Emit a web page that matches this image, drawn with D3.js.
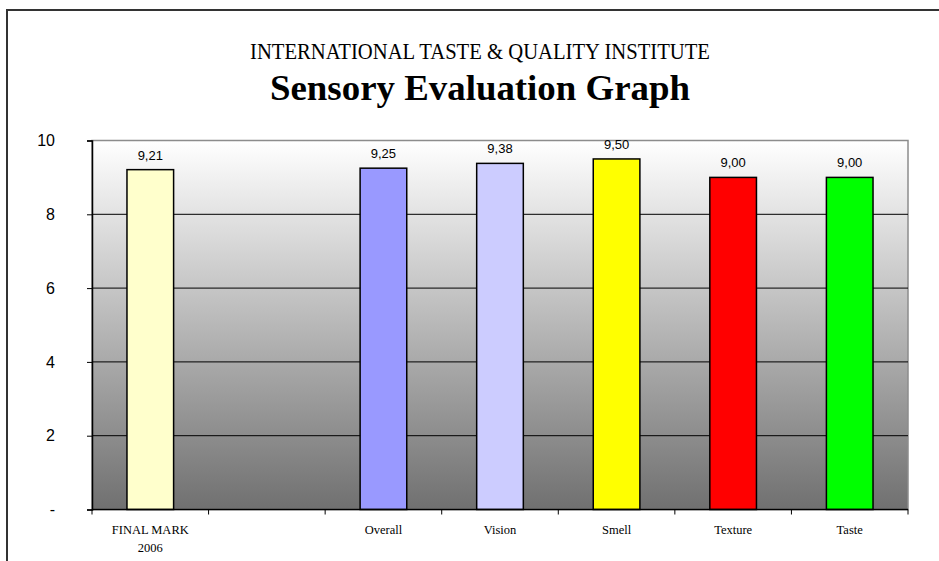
<!DOCTYPE html>
<html>
<head>
<meta charset="utf-8">
<script src="https://cdn.jsdelivr.net/npm/d3@7.9.0/dist/d3.min.js"></script>
<style>
  html, body { margin: 0; padding: 0; background: #fff; }
  svg { display: block; }
</style>
</head>
<body>
<svg id="chart" width="939" height="561"></svg>
<script>
// data
const categories = ['FINAL MARK|2006', ' ', 'Overall', 'Vision', 'Smell', 'Texture', 'Taste'];
const scores = [9.21, null, 9.25, 9.38, 9.50, 9.00, 9.00];
const barColors = ['#ffffcc', 'none', '#9999ff', '#ccccff', '#ffff00', '#ff0000', '#00ff00'];
const yTicks = [0, 2, 4, 6, 8, 10];

const svg = d3.select('#chart');

const plot = { left: 92, right: 908, top: 140.5, bottom: 509.5 };

const x = d3.scaleBand()
  .domain(categories)
  .range([plot.left, plot.right])
  .paddingInner(0.6)
  .paddingOuter(0.3);

const y = d3.scaleLinear().domain([0, 10]).range([plot.bottom, plot.top]);

// outer frame (runs off the page on the right and bottom)
svg.append('rect')
  .attr('x', 7).attr('y', 10)
  .attr('width', 1000).attr('height', 600)
  .attr('fill', 'none')
  .attr('stroke', '#333')
  .attr('stroke-width', 2);

// titles
svg.append('text')
  .attr('x', 480).attr('y', 59)
  .attr('text-anchor', 'middle')
  .attr('font-family', 'Liberation Serif, Times New Roman, serif')
  .attr('font-size', 22.5)
  .attr('textLength', 460)
  .attr('lengthAdjust', 'spacingAndGlyphs')
  .text('INTERNATIONAL TASTE & QUALITY INSTITUTE');

svg.append('text')
  .attr('x', 480).attr('y', 100)
  .attr('text-anchor', 'middle')
  .attr('font-family', 'Liberation Serif, Times New Roman, serif')
  .attr('font-weight', 'bold')
  .attr('font-size', 36)
  .attr('textLength', 420)
  .attr('lengthAdjust', 'spacingAndGlyphs')
  .text('Sensory Evaluation Graph');

// plot background gradient
const grad = svg.append('defs').append('linearGradient')
  .attr('id', 'bg').attr('x1', 0).attr('y1', 0).attr('x2', 0).attr('y2', 1);
grad.append('stop').attr('offset', '0%').attr('stop-color', '#ffffff');
grad.append('stop').attr('offset', '100%').attr('stop-color', '#707070');

svg.append('rect')
  .attr('x', plot.left).attr('y', plot.top)
  .attr('width', plot.right - plot.left)
  .attr('height', plot.bottom - plot.top)
  .attr('fill', 'url(#bg)')
  .attr('stroke', '#8c8c8c')
  .attr('stroke-width', 1.5);

// gridlines
svg.append('g')
  .selectAll('line')
  .data(yTicks.filter(t => t > 0 && t < 10))
  .join('line')
  .attr('x1', plot.left).attr('x2', plot.right)
  .attr('y1', d => y(d)).attr('y2', d => y(d))
  .attr('stroke', '#000')
  .attr('stroke-width', 1);

// bars
const data = categories.map((c, i) => ({ cat: c, value: scores[i], color: barColors[i] }))
  .filter(d => d.value != null);

svg.append('g')
  .selectAll('rect')
  .data(data)
  .join('rect')
  .attr('x', d => x(d.cat))
  .attr('y', d => y(d.value))
  .attr('width', x.bandwidth())
  .attr('height', d => y(0) - y(d.value))
  .attr('fill', d => d.color)
  .attr('stroke', '#000')
  .attr('stroke-width', 1.5);

// value labels
svg.append('g')
  .selectAll('text')
  .data(data)
  .join('text')
  .attr('x', d => x(d.cat) + x.bandwidth() / 2)
  .attr('y', d => y(d.value) - 10)
  .attr('text-anchor', 'middle')
  .attr('font-family', 'Liberation Sans, Arial, sans-serif')
  .attr('font-size', 13)
  .attr('fill', '#000')
  .text(d => d.value.toFixed(2).replace('.', ','));

// y axis
const yAxis = d3.axisLeft(y)
  .tickValues(yTicks)
  .tickSize(5)
  .tickPadding(32)
  .tickFormat(d => d === 0 ? '-' : d);

const gy = svg.append('g')
  .attr('transform', `translate(${plot.left},0)`)
  .call(yAxis);
gy.select('.domain').attr('stroke', '#000').attr('stroke-width', 1.5);
gy.selectAll('.tick line').attr('stroke', '#000');
gy.selectAll('.tick text')
  .attr('font-family', 'Liberation Sans, Arial, sans-serif')
  .attr('font-size', 16)
  .attr('fill', '#000');

// x axis: baseline, ticks between categories, labels centred in bands
svg.append('line')
  .attr('x1', plot.left).attr('x2', plot.right)
  .attr('y1', y(0)).attr('y2', y(0))
  .attr('stroke', '#000')
  .attr('stroke-width', 1.5);

svg.append('g')
  .selectAll('line')
  .data(d3.range(categories.length + 1))
  .join('line')
  .attr('x1', i => x.range()[0] + i * x.step())
  .attr('x2', i => x.range()[0] + i * x.step())
  .attr('y1', y(0)).attr('y2', y(0) + 5)
  .attr('stroke', '#000');

const xl = svg.append('g')
  .selectAll('text')
  .data(categories)
  .join('text')
  .attr('x', d => x(d) + x.bandwidth() / 2)
  .attr('y', 534)
  .attr('text-anchor', 'middle')
  .attr('font-family', 'Liberation Serif, Times New Roman, serif')
  .attr('font-size', 12.5)
  .attr('fill', '#000');

xl.selectAll('tspan')
  .data(d => d.trim().split('|'))
  .join('tspan')
  .attr('x', function () { return d3.select(this.parentNode).attr('x'); })
  .attr('dy', (d, i) => i === 0 ? 0 : 17.5)
  .text(d => d);
</script>
</body>
</html>
